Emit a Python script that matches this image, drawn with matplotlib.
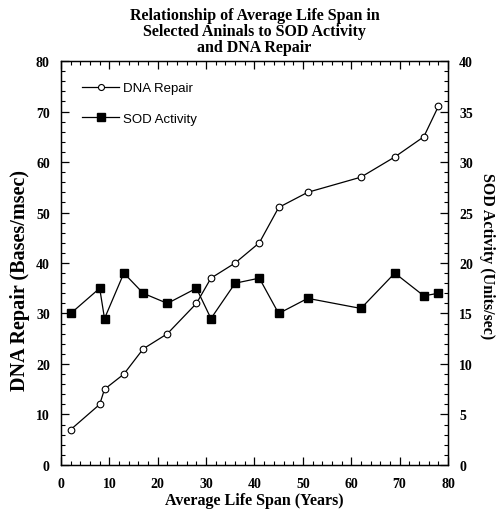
import matplotlib
matplotlib.use("Agg")
import matplotlib.pyplot as plt
from matplotlib.ticker import MultipleLocator

# Données
life_span = [2, 8, 9, 13, 17, 22, 28, 31, 36, 41, 45, 51, 62, 69, 75, 78]
dna_repair = [7, 12, 15, 18, 23, 26, 32, 37, 40, 44, 51, 54, 57, 61, 65, 71]
sod_activity = [15, 17.5, 14.5, 19, 17, 16, 17.5, 14.5, 18, 18.5, 15, 16.5,
                15.5, 19, 16.75, 17]

serif = ["Liberation Serif", "DejaVu Serif"]
sans = ["Liberation Sans", "DejaVu Sans"]

fig = plt.figure(figsize=(4.97, 5.10), dpi=100)
ax = fig.add_axes([0.1227, 0.0863, 0.7787, 0.7921])
ax2 = ax.twinx()

l1, = ax.plot(life_span, dna_repair, color="black", linewidth=0.9,
              marker="o", markersize=4.8, markerfacecolor="white",
              markeredgecolor="black", markeredgewidth=0.8,
              label="DNA Repair")
l2, = ax2.plot(life_span, sod_activity, color="black", linewidth=0.9,
               marker="s", markersize=6.3, markerfacecolor="black",
               markeredgecolor="black", label="SOD Activity")

ax.set_xlim(0, 80)
ax.set_ylim(0, 80)
ax2.set_ylim(0, 40)

ax.xaxis.set_major_locator(MultipleLocator(10))
ax.xaxis.set_minor_locator(MultipleLocator(2))
ax.yaxis.set_major_locator(MultipleLocator(10))
ax.yaxis.set_minor_locator(MultipleLocator(2))
ax2.yaxis.set_major_locator(MultipleLocator(5))
ax2.yaxis.set_minor_locator(MultipleLocator(1))

ax.tick_params(axis="x", which="both", direction="in", top=True)
ax.tick_params(axis="y", which="both", direction="in", right=False)
ax.tick_params(which="major", length=6, width=0.9, pad=8)
ax.tick_params(axis="x", which="major", pad=9)
ax.tick_params(which="minor", length=3, width=0.8)
ax2.tick_params(which="both", direction="in")
ax2.tick_params(which="major", length=6, width=0.9, pad=8)
ax2.tick_params(which="minor", length=3, width=0.8)

for a in (ax, ax2):
    for sp in a.spines.values():
        sp.set_linewidth(0.9)
    for lab in a.get_xticklabels() + a.get_yticklabels():
        lab.set_family(serif)
        lab.set_fontweight("bold")
        lab.set_fontsize(10)

ax.set_xlabel("Average Life Span (Years)", family=serif, fontweight="bold",
              fontsize=11.5, labelpad=1)
ax.set_ylabel("DNA Repair (Bases/msec)", family=serif, fontweight="bold",
              fontsize=14.5)
ax.yaxis.set_label_coords(-0.08, 0.458)
ax2.set_ylabel("SOD Activity (Units/sec)", family=serif, fontweight="bold",
               fontsize=11.5, rotation=270)
ax2.yaxis.set_label_coords(1.122, 0.52)

ax.set_title("Relationship of Average Life Span in\n"
             "Selected Aninals to SOD Activity\n"
             "and DNA Repair",
             family=serif, fontweight="bold", fontsize=11.5, linespacing=1.02,
             pad=7)

leg = ax.legend(handles=[l1, l2], loc="upper left", frameon=False,
                prop={"family": sans, "size": 9.5}, handlelength=2.8,
                labelspacing=1.4, borderaxespad=1.2, handletextpad=0.3,
                markerscale=0.9)

fig.savefig("out.png", dpi=100)
